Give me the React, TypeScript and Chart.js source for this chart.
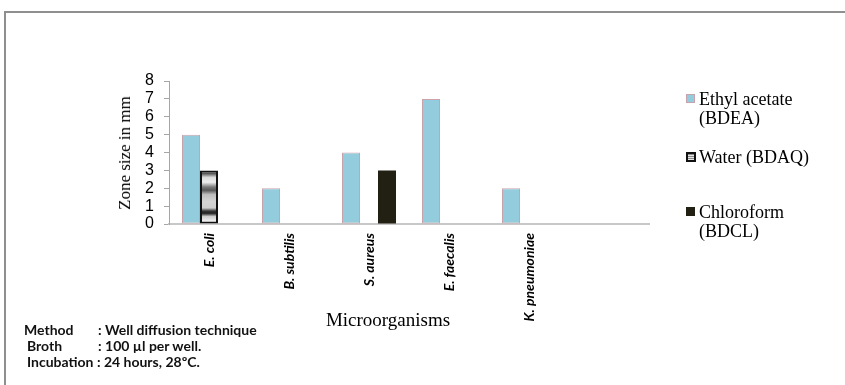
import React, { useEffect, useRef } from 'react';
import { Chart, registerables } from 'chart.js';

Chart.register(...registerables);

// Zone of inhibition (mm) for each extract against each microorganism
const categories = ['E. coli', 'B. subtilis', 'S. aureus', 'E. faecalis', 'K. pneumoniae', ''];
const ethylAcetate = [5, 2, 4, 7, 2, null];
const water = [3, null, null, null, null, null];
const chloroform = [null, null, 3, null, null, null];
const yMin = 0;
const yMax = 8;
const yStep = 1;

const legendLines = [
  ['Ethyl acetate', '(BDEA)'],
  ['Water (BDAQ)'],
  ['Chloroform', '(BDCL)'],
];

const notes = [
  { label: 'Method', value: ': Well diffusion technique' },
  { label: 'Broth', value: ': 100 µl per well.' },
  { label: 'Incubation : 24 hours, 28ºC.', value: '' },
];

const EA_FILL = '#93cddd';
const EA_EDGE = '#c9a3ab';
const CL_FILL = '#221f13';

// Banded metallic fill used for the aqueous extract bars
function waterFill(ctx: any) {
  const chart = ctx.chart;
  const y = chart.scales && chart.scales.y;
  if (!chart.chartArea || !y || ctx.raw == null) return '#bbbbbb';
  const top = y.getPixelForValue(ctx.raw);
  const bottom = y.getPixelForValue(0);
  const g = chart.ctx.createLinearGradient(0, top, 0, bottom);
  g.addColorStop(0.0, '#1a1a1a');
  g.addColorStop(0.06, '#5a5a5a');
  g.addColorStop(0.13, '#d9d9d9');
  g.addColorStop(0.22, '#eeeeee');
  g.addColorStop(0.31, '#7a7a7a');
  g.addColorStop(0.37, '#575757');
  g.addColorStop(0.45, '#bdbdbd');
  g.addColorStop(0.58, '#d4d4d4');
  g.addColorStop(0.7, '#cfcfcf');
  g.addColorStop(0.76, '#333333');
  g.addColorStop(0.8, '#222222');
  g.addColorStop(0.86, '#cccccc');
  g.addColorStop(0.95, '#f2f2f2');
  g.addColorStop(1.0, '#dddddd');
  return g;
}

const serif = '"Liberation Serif", "Times New Roman", serif';
const sans = 'Lato, "Liberation Sans", Arial, sans-serif';

export default function App() {
  const canvasRef = useRef<HTMLCanvasElement | null>(null);

  useEffect(() => {
    const canvas = canvasRef.current;
    if (!canvas) return;
    const chart = new Chart(canvas, {
      type: 'bar',
      data: {
        labels: categories,
        datasets: [
          {
            label: 'Ethyl acetate (BDEA)',
            data: ethylAcetate,
            backgroundColor: EA_FILL,
            borderColor: EA_EDGE,
            borderWidth: 1,
            borderSkipped: false,
          },
          {
            label: 'Water (BDAQ)',
            data: water,
            backgroundColor: waterFill,
            borderColor: '#111111',
            borderWidth: 2,
            borderSkipped: false,
          },
          {
            label: 'Chloroform (BDCL)',
            data: chloroform,
            backgroundColor: CL_FILL,
            borderColor: CL_FILL,
            borderWidth: 0,
          },
        ],
      },
      options: {
        responsive: false,
        animation: false,
        devicePixelRatio: 1,
        layout: { padding: { left: 0, top: 81, right: 196, bottom: 0 } },
        datasets: { bar: { barPercentage: 1, categoryPercentage: 0.675 } },
        plugins: {
          legend: { display: false },
          tooltip: { enabled: false },
          title: { display: false },
        },
        scales: {
          x: {
            grid: { display: false, drawTicks: false },
            border: { display: true, color: '#c8c8c8', width: 2 },
            ticks: {
              autoSkip: false,
              minRotation: 90,
              maxRotation: 90,
              padding: 9,
              color: '#000000',
              font: { family: sans, size: 14, style: 'italic', weight: 'bold' },
            },
            afterFit: (scale: any) => {
              scale.height = 161;
            },
          },
          y: {
            min: yMin,
            max: yMax,
            grid: { drawOnChartArea: false, tickLength: 5, color: '#a6a6a6' },
            border: { display: true, color: '#a6a6a6', width: 1 },
            ticks: {
              stepSize: yStep,
              autoSkip: false,
              padding: 10,
              color: '#000000',
              font: { family: '"Liberation Sans", Arial, sans-serif', size: 16 },
            },
            afterFit: (scale: any) => {
              scale.width = 169;
            },
          },
        },
      },
    });
    return () => chart.destroy();
  }, []);

  const legendTops = [99, 157, 212];

  return (
    <div
      style={{
        position: 'absolute',
        left: 0,
        top: 0,
        width: 845,
        height: 385,
        background: '#ffffff',
        overflow: 'hidden',
      }}
    >
      {/* frame */}
      <div
        style={{
          position: 'absolute',
          left: 4,
          top: 11,
          width: 860,
          height: 400,
          borderTop: '2px solid #8f8f8f',
          borderLeft: '2px solid #8f8f8f',
        }}
      />
      <canvas ref={canvasRef} width={845} height={385} style={{ position: 'absolute', left: 0, top: 0 }} />

      {/* axis titles */}
      <div
        style={{
          position: 'absolute',
          left: 125,
          top: 153,
          transform: 'translate(-50%, -50%) rotate(-90deg)',
          fontFamily: serif,
          fontSize: 17,
          whiteSpace: 'nowrap',
          color: '#000',
        }}
      >
        Zone size in mm
      </div>
      <div
        style={{
          position: 'absolute',
          left: 388,
          top: 320,
          transform: 'translate(-50%, -50%)',
          fontFamily: serif,
          fontSize: 19,
          whiteSpace: 'nowrap',
          color: '#000',
        }}
      >
        Microorganisms
      </div>

      {/* legend */}
      {legendLines.map((lines, i) => (
        <div key={i} style={{ position: 'absolute', left: 686, top: legendTops[i] - 10 }}>
          <div
            style={
              i === 0
                ? { position: 'absolute', left: 0, top: 5, width: 7, height: 7, background: EA_FILL, border: '1px solid ' + EA_EDGE }
                : i === 1
                ? {
                    position: 'absolute',
                    left: 0,
                    top: 5,
                    width: 6,
                    height: 6,
                    border: '2px solid #111',
                    background: 'repeating-linear-gradient(to bottom, #8a8a8a 0px, #8a8a8a 1px, #e6e6e6 1px, #e6e6e6 2px)',
                  }
                : { position: 'absolute', left: 0, top: 5, width: 9, height: 9, background: CL_FILL }
            }
          />
          {lines.map((t, j) => (
            <div
              key={j}
              style={{
                position: 'absolute',
                left: 13,
                top: j * 19,
                fontFamily: serif,
                fontSize: 18,
                lineHeight: '20px',
                whiteSpace: 'nowrap',
                color: '#000',
              }}
            >
              {t}
            </div>
          ))}
        </div>
      ))}

      {/* method notes */}
      {notes.map((n, i) => (
        <div
          key={i}
          style={{
            position: 'absolute',
            left: i === 0 ? 24 : 27,
            top: 322 + i * 16,
            fontFamily: sans,
            fontWeight: 'bold',
            fontSize: 14,
            lineHeight: '16px',
            whiteSpace: 'nowrap',
            color: '#111',
          }}
        >
          {n.label}
          {n.value && <span style={{ position: 'absolute', left: 98 - (i === 0 ? 24 : 27) }}>{n.value}</span>}
        </div>
      ))}
    </div>
  );
}
